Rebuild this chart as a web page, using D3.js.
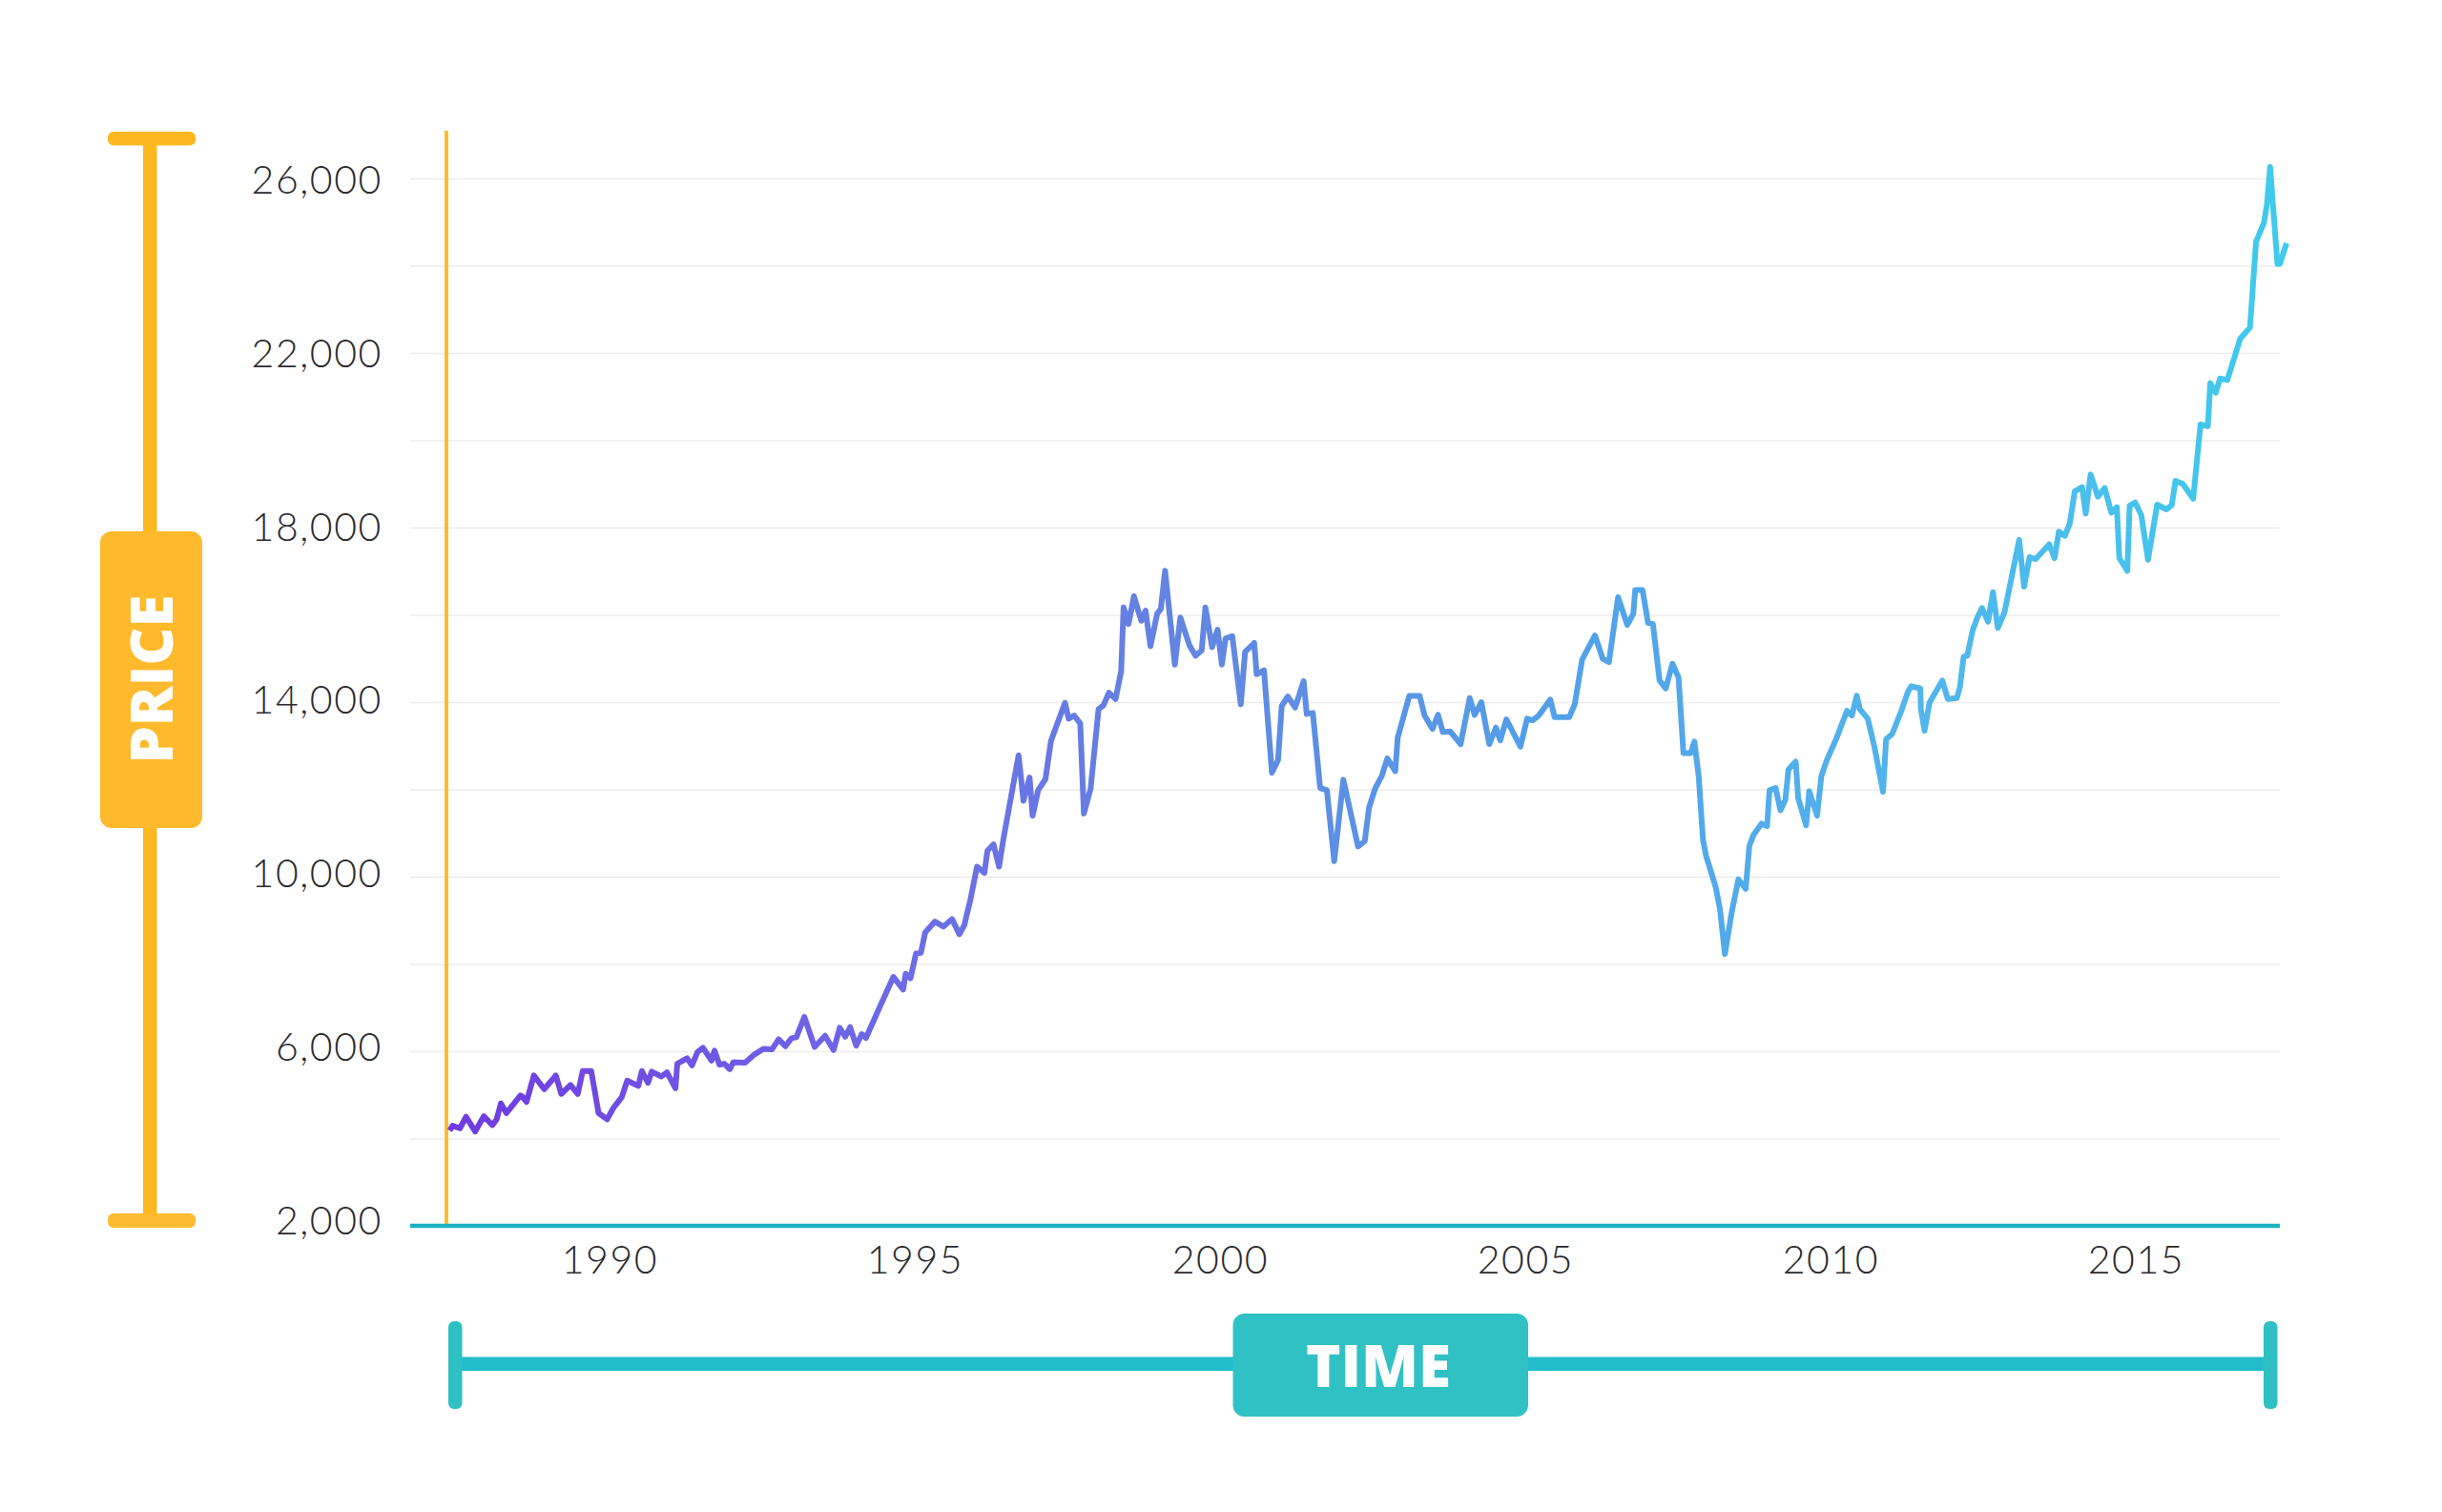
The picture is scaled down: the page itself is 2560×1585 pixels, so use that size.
<!DOCTYPE html>
<html>
<head>
<meta charset="utf-8">
<script src="https://d3js.org/d3.v7.min.js"></script>
<style>
  html, body { margin: 0; padding: 0; background: #fff; }
  svg { display: block; }
  .tick-label text { font-family: Lato, "Noto Sans", sans-serif; font-weight: 300; font-size: 41px; letter-spacing: 1.6px; fill: #2b2b30; }
  .badge { font-family: "Open Sans", Lato, sans-serif; font-weight: 800; fill: #fff; }
</style>
</head>
<body>
<svg id="chart" width="2560" height="1585"></svg>
<script>
// Values: decimal year and price of each turning point of the line
var years = [
  1987.38, 1987.43, 1987.55, 1987.65, 1987.80, 1987.94, 1988.08, 1988.15, 1988.22, 1988.31,
  1988.54, 1988.57, 1988.64, 1988.76, 1988.93, 1989.12, 1989.21, 1989.36, 1989.48, 1989.56,
  1989.70, 1989.82, 1989.96, 1990.06, 1990.20, 1990.29, 1990.47, 1990.53, 1990.63, 1990.69,
  1990.85, 1990.94, 1991.08, 1991.11, 1991.27, 1991.35, 1991.44, 1991.53, 1991.67, 1991.72,
  1991.80, 1991.88, 1991.97, 1992.03, 1992.22, 1992.38, 1992.52, 1992.66, 1992.77, 1992.88,
  1992.98, 1993.06, 1993.19, 1993.36, 1993.53, 1993.67, 1993.77, 1993.86, 1993.94, 1994.04,
  1994.13, 1994.20, 1994.43, 1994.65, 1994.81, 1994.85, 1994.93, 1995.02, 1995.10, 1995.17,
  1995.33, 1995.47, 1995.61, 1995.73, 1995.81, 1995.91, 1996.02, 1996.14, 1996.19, 1996.29,
  1996.38, 1996.45, 1996.70, 1996.78, 1996.88, 1996.93, 1997.02, 1997.14, 1997.23, 1997.46,
  1997.52, 1997.61, 1997.71, 1997.77, 1997.88, 1998.01, 1998.09, 1998.18, 1998.29, 1998.38,
  1998.42, 1998.50, 1998.59, 1998.71, 1998.78, 1998.86, 1998.97, 1999.03, 1999.10, 1999.26,
  1999.35, 1999.50, 1999.60, 1999.70, 1999.76, 1999.87, 1999.96, 2000.03, 2000.09, 2000.20,
  2000.34, 2000.41, 2000.56, 2000.60, 2000.72, 2000.85, 2000.95, 2001.01, 2001.11, 2001.23,
  2001.37, 2001.42, 2001.52, 2001.64, 2001.75, 2001.87, 2002.02, 2002.26, 2002.37, 2002.44,
  2002.54, 2002.65, 2002.74, 2002.87, 2002.91, 2003.10, 2003.27, 2003.35, 2003.48, 2003.57,
  2003.65, 2003.77, 2003.94, 2004.09, 2004.17, 2004.28, 2004.41, 2004.52, 2004.59, 2004.69,
  2004.92, 2005.03, 2005.12, 2005.22, 2005.41, 2005.48, 2005.72, 2005.81, 2005.93, 2006.14,
  2006.27, 2006.37, 2006.52, 2006.67, 2006.77, 2006.80, 2006.92, 2007.01, 2007.09, 2007.20,
  2007.30, 2007.41, 2007.51, 2007.59, 2007.71, 2007.77, 2007.84, 2007.91, 2007.96, 2008.12,
  2008.19, 2008.27, 2008.38, 2008.49, 2008.61, 2008.67, 2008.74, 2008.87, 2008.96, 2009.00,
  2009.10, 2009.18, 2009.26, 2009.31, 2009.43, 2009.47, 2009.60, 2009.65, 2009.78, 2009.85,
  2009.94, 2010.09, 2010.27, 2010.35, 2010.43, 2010.48, 2010.61, 2010.72, 2010.86, 2010.91,
  2011.01, 2011.16, 2011.27, 2011.32, 2011.47, 2011.48, 2011.54, 2011.62, 2011.83, 2011.92,
  2012.07, 2012.12, 2012.18, 2012.24, 2012.33, 2012.41, 2012.48, 2012.58, 2012.66, 2012.74,
  2012.85, 2013.09, 2013.17, 2013.26, 2013.36, 2013.58, 2013.67, 2013.74, 2013.84, 2013.92,
  2014.00, 2014.12, 2014.18, 2014.26, 2014.38, 2014.49, 2014.60, 2014.69, 2014.73, 2014.86,
  2014.90, 2014.99, 2015.09, 2015.20, 2015.35, 2015.50, 2015.59, 2015.65, 2015.77, 2015.94,
  2016.06, 2016.18, 2016.22, 2016.31, 2016.38, 2016.50, 2016.71, 2016.87, 2016.97, 2017.10,
  2017.15, 2017.20, 2017.32, 2017.36, 2017.47
];
var prices = [
  4184, 4293, 4235, 4497, 4162, 4511, 4307, 4439, 4803, 4584,
  4985, 4963, 4839, 5444, 5131, 5444, 5022, 5226, 5022, 5546,
  5546, 4584, 4439, 4694, 4949, 5328, 5204, 5546, 5277, 5532,
  5422, 5517, 5153, 5714, 5838, 5677, 5983, 6078, 5787, 6013,
  5692, 5714, 5590, 5750, 5736, 5932, 6056, 6042, 6275, 6115,
  6297, 6319, 6785, 6100, 6355, 6027, 6537, 6333, 6552, 6129,
  6392, 6304, 7026, 7703, 7412, 7776, 7674, 8242, 8257, 8723,
  8971, 8855, 9030, 8680, 8884, 9467, 10231, 10086, 10596, 10741,
  10231, 10851, 12782, 11740, 12272, 11397, 11980, 12235, 13110, 13984,
  13620, 13693, 13510, 11448, 12017, 13838, 13926, 14217, 14072, 14713,
  16170, 15791, 16425, 15864, 16097, 15281, 16025, 16134, 17008, 14859,
  15937, 15296, 15063, 15186, 16170, 15259, 15660, 14859, 15456, 15514,
  13948, 15150, 15354, 14640, 14727, 12381, 12672, 13911, 14130, 13875,
  14480, 13729, 13751, 12031, 11980, 10355, 12221, 10690, 10814, 11579,
  12017, 12308, 12709, 12417, 13183, 14144, 14144, 13693, 13387, 13707,
  13314, 13328, 13037, 14093, 13707, 13999, 13037, 13416, 13124, 13605,
  12979, 13620, 13583, 13693, 14057, 13656, 13656, 13948, 14968, 15529,
  14990, 14917, 16403, 15769, 16025, 16571, 16571, 15820, 15791, 14494,
  14312, 14880, 14567, 12833, 12833, 13095, 12308, 10851, 10486, 9758,
  9247, 8227, 9175, 9940, 9721, 10705, 10960, 11215, 11157, 11980,
  12031, 11521, 11761, 12454, 12636, 11798, 11179, 11958, 11397, 12308,
  12672, 13146, 13802, 13693, 14144, 13838, 13620, 12964, 11944, 13146,
  13270, 13802, 14239, 14363, 14312, 13838, 13343, 13984, 14494, 14072,
  14093, 14348, 15041, 15063, 15660, 15952, 16156, 15842, 16520, 15697,
  16061, 17715, 16644, 17322, 17278, 17613, 17300, 17905, 17810, 18101,
  18830, 18925, 18320, 19216, 18706, 18903, 18342, 18466, 17300, 17008,
  18502, 18575, 18284, 17263, 18524, 18415, 18517, 19070, 18998, 18662,
  20360, 20323, 21307, 21088, 21416, 21380, 22327, 22582, 24550, 24987,
  25424, 26262, 24040, 24040, 24513
];
var gridValues = [4000, 6000, 8000, 10000, 12000, 14000, 16000, 18000, 20000, 22000, 24000, 26000];
var priceLabels = [2000, 6000, 10000, 14000, 18000, 22000, 26000];
var yearLabels = [1990, 1995, 2000, 2005, 2010, 2015];

var svg = d3.select("#chart");

var left = 430, right = 2390, baseY = 1285;

// scales: 64px per year, 91.5px per 2000
var x = d3.scaleLinear().domain([1990, 2015]).range([639, 2239]);
var y = d3.scaleLinear().domain([2000, 26000]).range([baseY, 187]);
// the printed labels sit on a very slightly tighter spacing than the grid
var yLabel = d3.scaleLinear().domain([2000, 26000]).range([1280, 189.5]);

// gradient along the line, purple to cyan
var defs = svg.append("defs");
var grad = defs.append("linearGradient")
  .attr("id", "lineGrad")
  .attr("gradientUnits", "userSpaceOnUse")
  .attr("x1", 470).attr("x2", 2400).attr("y1", 0).attr("y2", 0);
[[0, "#6f3ae0"], [0.2, "#6f63e6"], [0.4, "#6385e2"], [0.6, "#52a0e8"], [0.8, "#52b5ec"], [1, "#3fcbec"]].forEach(function (s) {
  grad.append("stop").attr("offset", s[0]).attr("stop-color", s[1]);
});

// grid
var gridAxis = d3.axisLeft(y).tickValues(gridValues).tickSize(-(right - left)).tickFormat("");
svg.append("g")
  .attr("transform", "translate(" + left + ",0)")
  .call(gridAxis)
  .call(function (g) { g.select(".domain").remove(); })
  .selectAll("line").attr("stroke", "#ececec").attr("stroke-width", 1.6);

// y labels
svg.append("g")
  .attr("class", "tick-label")
  .attr("transform", "translate(401,0)")
  .call(d3.axisLeft(yLabel).tickValues(priceLabels).tickSize(0).tickPadding(0).tickFormat(d3.format(",")))
  .call(function (g) { g.select(".domain").remove(); });

// x labels
svg.append("g")
  .attr("class", "tick-label")
  .attr("transform", "translate(0,1306)")
  .call(d3.axisBottom(x).tickValues(yearLabels).tickSize(0).tickPadding(0).tickFormat(d3.format("d")))
  .call(function (g) { g.select(".domain").remove(); });

// axis lines
svg.append("line").attr("x1", 468).attr("x2", 468).attr("y1", 137).attr("y2", baseY)
  .attr("stroke", "#fcbc30").attr("stroke-width", 4);
svg.append("line").attr("x1", left).attr("x2", right).attr("y1", baseY).attr("y2", baseY)
  .attr("stroke", "#1fb2c2").attr("stroke-width", 4.5);

// price line
var line = d3.line().x(function (d) { return x(d); }).y(function (d, i) { return y(prices[i]); });
svg.append("path")
  .attr("d", line(years))
  .attr("fill", "none")
  .attr("stroke", "url(#lineGrad)")
  .attr("stroke-width", 6)
  .attr("stroke-linejoin", "round");

// PRICE bracket
var amber = "#fdb81f";
svg.append("rect").attr("x", 150).attr("y", 145).attr("width", 14.5).attr("height", 1135).attr("fill", amber);
svg.append("rect").attr("x", 113).attr("y", 138).attr("width", 92).attr("height", 14.5).attr("rx", 6).attr("fill", amber);
svg.append("rect").attr("x", 113).attr("y", 1272).attr("width", 92).attr("height", 15).attr("rx", 6).attr("fill", "#fdbb2f");
svg.append("rect").attr("x", 105).attr("y", 557).attr("width", 107).attr("height", 311).attr("rx", 12).attr("fill", "#ffb92c");
svg.append("text").attr("class", "badge")
  .attr("transform", "translate(157,712) rotate(-90)")
  .attr("text-anchor", "middle").attr("dominant-baseline", "central")
  .attr("font-size", 62)
  .text("PRICE");

// TIME bracket
var teal = "#22bdcb";
svg.append("rect").attr("x", 478).attr("y", 1422.5).attr("width", 1902).attr("height", 14.5).attr("fill", teal);
svg.append("rect").attr("x", 470).attr("y", 1385).attr("width", 14.5).attr("height", 92).attr("rx", 6).attr("fill", "#2fc0c4");
svg.append("rect").attr("x", 2373).attr("y", 1385).attr("width", 14.5).attr("height", 92).attr("rx", 6).attr("fill", "#2fc0c4");
svg.append("rect").attr("x", 1292.5).attr("y", 1377).attr("width", 309.5).attr("height", 108).attr("rx", 12).attr("fill", "#30c1c4");
svg.append("text").attr("class", "badge")
  .attr("x", 1445).attr("y", 1430)
  .attr("text-anchor", "middle").attr("dominant-baseline", "central")
  .attr("font-size", 62)
  .text("TIME");
</script>
</body>
</html>
